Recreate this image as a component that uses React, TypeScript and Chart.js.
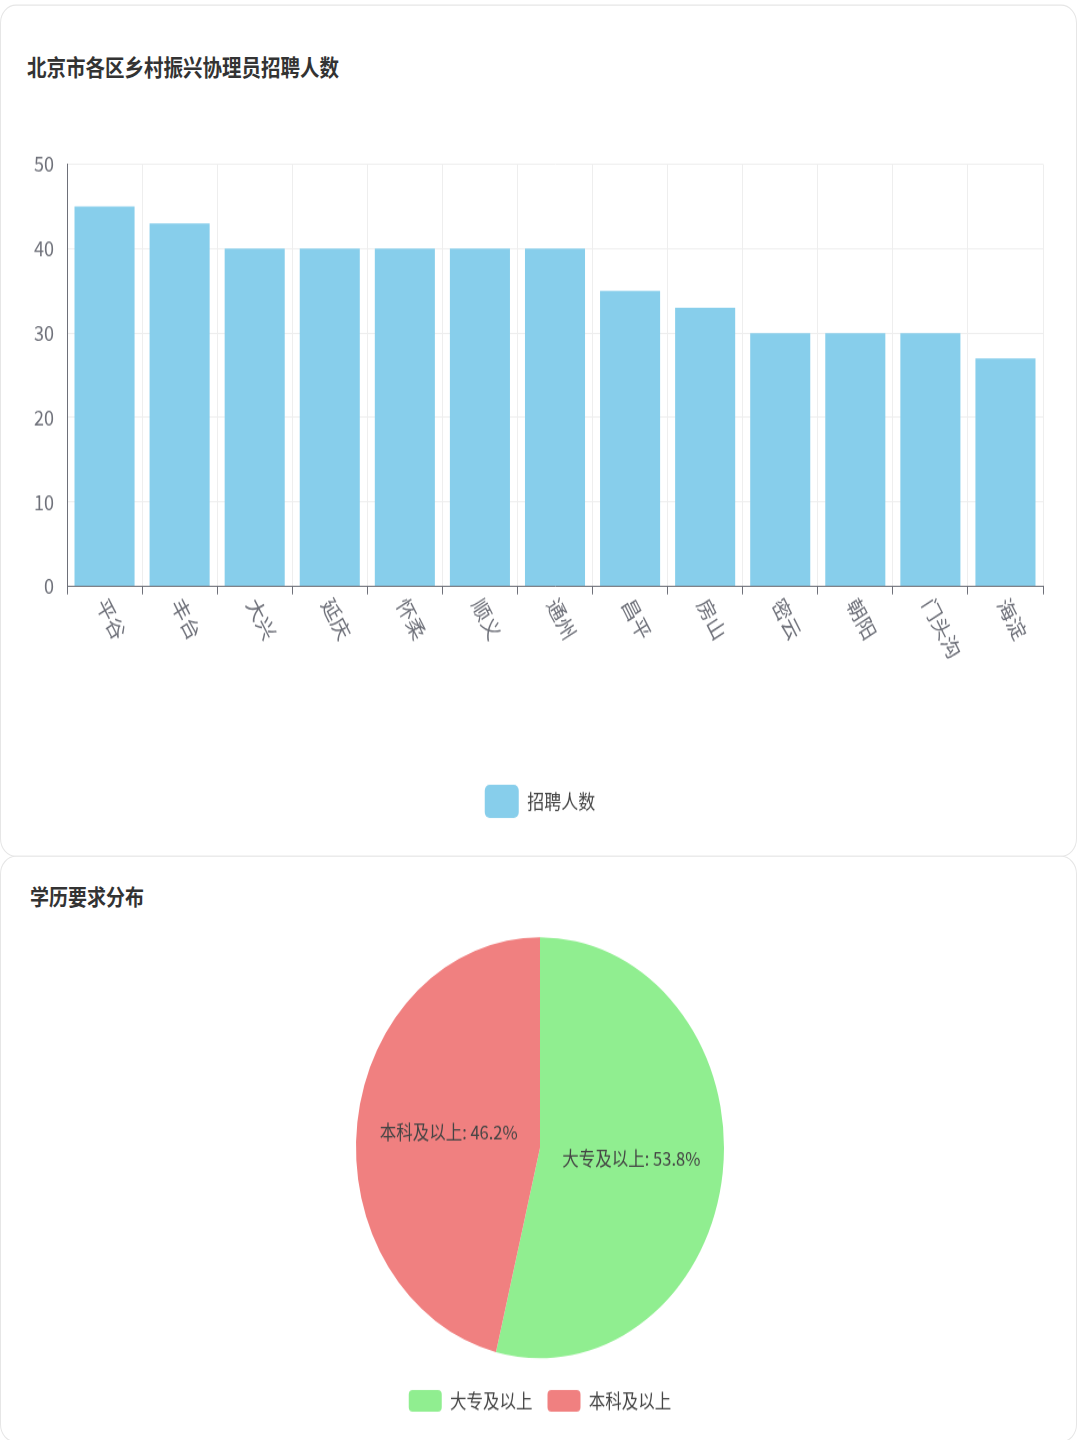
import { useEffect, useRef } from 'react';
import { Chart, registerables, type ChartConfiguration, type Plugin } from 'chart.js';

Chart.register(...registerables);

// the reference is a phone screenshot stretched vertically, so lay out flat and stretch
const STRETCH = 1.144;
const FONT = "'Noto Sans CJK SC', 'Noto Sans', sans-serif";

const districts = ['平谷', '丰台', '大兴', '延庆', '怀柔', '顺义', '通州', '昌平', '房山', '密云', '朝阳', '门头沟', '海淀'];
const hires = [45, 43, 40, 40, 40, 40, 40, 35, 33, 30, 30, 30, 27];
const yTicks = [0, 10, 20, 30, 40, 50];

const eduLevels = ['大专及以上', '本科及以上'];
const eduCounts = [7, 6];
const eduColors = ['#90ee90', '#f08080'];

// x labels go down-right from the tick, which chart.js can't rotate that way
const slantedLabels: Plugin<'bar'> = {
  id: 'slantedLabels',
  afterDraw(chart) {
    const { ctx } = chart;
    const x = chart.scales.x;
    ctx.save();
    ctx.font = `19px ${FONT}`;
    ctx.fillStyle = '#6e7079';
    ctx.textAlign = 'left';
    ctx.textBaseline = 'middle';
    districts.forEach((name, i) => {
      ctx.save();
      ctx.translate(x.getPixelForValue(i) - 3, x.top + 12);
      ctx.rotate((60 * Math.PI) / 180);
      ctx.fillText(name, 0, 0);
      ctx.restore();
    });
    ctx.restore();
  },
};

const sliceLabels: Plugin<'pie'> = {
  id: 'sliceLabels',
  afterDatasetsDraw(chart) {
    const { ctx } = chart;
    const meta = chart.getDatasetMeta(0);
    const total = eduCounts.reduce((a, b) => a + b, 0);
    ctx.save();
    ctx.font = `16.5px ${FONT}`;
    ctx.fillStyle = '#444';
    ctx.textAlign = 'center';
    ctx.textBaseline = 'middle';
    meta.data.forEach((arc, i) => {
      const { x, y } = arc.tooltipPosition(true);
      const pct = ((eduCounts[i] / total) * 100).toFixed(1);
      ctx.fillText(`${eduLevels[i]}: ${pct}%`, x, y - 2);
    });
    ctx.restore();
  },
};

function HiresChart() {
  const canvasRef = useRef<HTMLCanvasElement>(null);

  useEffect(() => {
    if (!canvasRef.current) return;
    const config: ChartConfiguration<'bar'> = {
      type: 'bar',
      data: {
        labels: districts,
        datasets: [
          {
            label: '招聘人数',
            data: hires,
            backgroundColor: '#87ceeb',
            categoryPercentage: 0.8,
            barPercentage: 1,
          },
        ],
      },
      options: {
        responsive: false,
        animation: false,
        layout: { padding: { top: 42.5, right: 0, bottom: 16, left: 0 } },
        plugins: {
          tooltip: { enabled: false },
          legend: {
            position: 'bottom',
            labels: {
              boxWidth: 34,
              boxHeight: 29,
              padding: 10,
              useBorderRadius: true,
              borderRadius: 5,
              color: '#444',
              font: { family: FONT, size: 17 },
            },
          },
        },
        scales: {
          x: {
            afterFit: (s) => {
              s.height = 163.4;
            },
            grid: { color: '#eeeeee', tickColor: '#6e7079', tickLength: 7, offset: true },
            border: { color: '#6e7079' },
            ticks: { display: false },
          },
          y: {
            min: 0,
            max: 50,
            afterFit: (s) => {
              s.width = 66;
            },
            afterBuildTicks: (s) => {
              s.ticks = yTicks.map((v) => ({ value: v }));
            },
            grid: { color: '#eeeeee', drawTicks: false },
            border: { color: '#6e7079' },
            ticks: { padding: 13, color: '#6e7079', font: { family: FONT, size: 18 } },
          },
          // empty right gutter so the legend stays centred on the card
          gutter: {
            type: 'linear',
            position: 'right',
            afterFit: (s) => {
              s.width = 36;
            },
            grid: { display: false },
            border: { display: false },
            ticks: { display: false },
          },
        },
      },
      plugins: [slantedLabels],
    };
    const chart = new Chart(canvasRef.current, config);
    return () => chart.destroy();
  }, []);

  return <canvas ref={canvasRef} width={1078} height={640} style={{ position: 'absolute', left: 0, top: 96 }} />;
}

function EduChart() {
  const canvasRef = useRef<HTMLCanvasElement>(null);

  useEffect(() => {
    if (!canvasRef.current) return;
    const config: ChartConfiguration<'pie'> = {
      type: 'pie',
      data: {
        labels: eduLevels,
        datasets: [{ data: eduCounts, backgroundColor: eduColors, borderWidth: 0, radius: 184 }],
      },
      options: {
        responsive: false,
        animation: false,
        layout: { padding: { top: 5.5, bottom: 12 } },
        plugins: {
          tooltip: { enabled: false },
          legend: {
            position: 'bottom',
            labels: {
              boxWidth: 33,
              boxHeight: 19,
              padding: 15,
              useBorderRadius: true,
              borderRadius: 4,
              color: '#444',
              font: { family: FONT, size: 16.5 },
            },
          },
        },
      },
      plugins: [sliceLabels],
    };
    const chart = new Chart(canvasRef.current, config);
    return () => chart.destroy();
  }, []);

  return <canvas ref={canvasRef} width={1078} height={455} style={{ position: 'absolute', left: 0, top: 800 - 748 }} />;
}

const cardStyle: React.CSSProperties = {
  position: 'absolute',
  left: 0,
  width: 1077,
  background: '#fff',
  border: '1px solid #e6e6e6',
  borderRadius: 16,
  boxSizing: 'border-box',
};

export default function App() {
  useEffect(() => {
    document.body.style.margin = '0';
  }, []);

  return (
    <div
      style={{
        position: 'absolute',
        top: 0,
        left: 0,
        width: 1080,
        height: 1440 / STRETCH,
        overflow: 'hidden',
        background: '#fff',
        fontFamily: FONT,
        transform: `scaleY(${STRETCH})`,
        transformOrigin: '0 0',
      }}
    >
      <div style={{ ...cardStyle, top: 4, height: 745 }}>
        <div style={{ position: 'absolute', left: 26, top: 38, fontSize: 19.5, fontWeight: 600, color: '#333' }}>
          北京市各区乡村振兴协理员招聘人数
        </div>
        <HiresChart />
      </div>
      <div style={{ ...cardStyle, top: 748, height: 1440 / STRETCH - 746 }}>
        <div style={{ position: 'absolute', left: 29, top: 20, fontSize: 19, fontWeight: 700, color: '#333' }}>
          学历要求分布
        </div>
        <EduChart />
      </div>
    </div>
  );
}
